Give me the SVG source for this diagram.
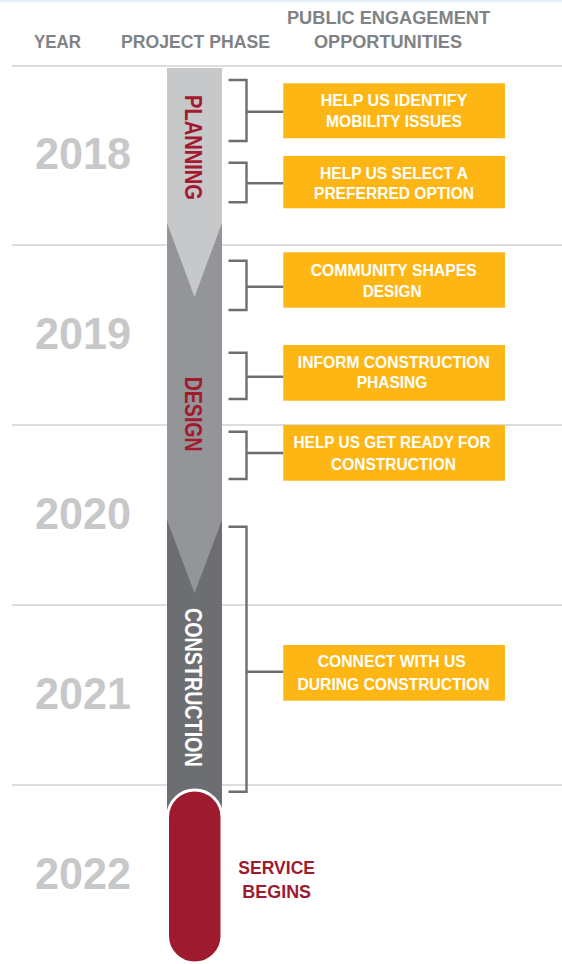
<svg xmlns="http://www.w3.org/2000/svg" width="562" height="964" viewBox="0 0 562 964">
<style>
.hdr{font-family:"Liberation Sans",Arial,sans-serif;font-weight:bold;font-size:18px;fill:#808285;text-anchor:middle}
.yr{font-family:"Liberation Sans",Arial,sans-serif;font-weight:bold;font-size:45px;fill:#c7c8ca}
.sep{stroke:#d1d2d4;stroke-width:1.5;fill:none}
.br{stroke:#6d6e71;stroke-width:2.4;fill:none}
.box{fill:#fdb614}
.bt{font-family:"Liberation Sans",Arial,sans-serif;font-weight:bold;font-size:16px;fill:#ffffff;text-anchor:middle}
.ph{font-family:"Liberation Sans",Arial,sans-serif;font-weight:bold;font-size:24px;text-anchor:middle}
.svc{font-family:"Liberation Sans",Arial,sans-serif;font-weight:bold;font-size:19px;fill:#9e1a2f;text-anchor:middle}
</style>
<rect x="0" y="0" width="562" height="964" fill="#ffffff"/>
<line x1="0" y1="1" x2="562" y2="1" stroke="#e6f0f8" stroke-width="2"/>
<g id="header">
<text class="hdr" x="57.5" y="48" textLength="47" lengthAdjust="spacingAndGlyphs">YEAR</text>
<text class="hdr" x="195.5" y="48" textLength="149" lengthAdjust="spacingAndGlyphs">PROJECT PHASE</text>
<text class="hdr" x="388.5" y="24" textLength="203" lengthAdjust="spacingAndGlyphs">PUBLIC ENGAGEMENT</text>
<text class="hdr" x="388" y="48" textLength="148" lengthAdjust="spacingAndGlyphs">OPPORTUNITIES</text>
</g>
<g id="separators">
<line class="sep" x1="12" y1="66" x2="562" y2="66"/>
<line class="sep" x1="12" y1="245" x2="562" y2="245"/>
<line class="sep" x1="12" y1="425" x2="562" y2="425"/>
<line class="sep" x1="12" y1="605" x2="562" y2="605"/>
<line class="sep" x1="12" y1="785" x2="562" y2="785"/>
</g>
<g id="years">
<text class="yr" x="35" y="169" textLength="96" lengthAdjust="spacingAndGlyphs">2018</text>
<text class="yr" x="35" y="349" textLength="96" lengthAdjust="spacingAndGlyphs">2019</text>
<text class="yr" x="35" y="529" textLength="96" lengthAdjust="spacingAndGlyphs">2020</text>
<text class="yr" x="35" y="709" textLength="96" lengthAdjust="spacingAndGlyphs">2021</text>
<text class="yr" x="35" y="889" textLength="96" lengthAdjust="spacingAndGlyphs">2022</text>
</g>
<g id="phase-construction">
<rect x="167" y="515" width="55" height="295" fill="#6d6e71"/>
<text class="ph" fill="#ffffff" transform="translate(185,687.3) rotate(90)" textLength="158.7" lengthAdjust="spacingAndGlyphs">CONSTRUCTION</text>
</g>
<g id="phase-design">
<polygon points="167,220 222,220 222,520 194.5,593 167,520" fill="#939598"/>
<text class="ph" fill="#a3192f" transform="translate(185,414.2) rotate(90)" textLength="75" lengthAdjust="spacingAndGlyphs">DESIGN</text>
</g>
<g id="phase-planning">
<polygon points="167,68 222,68 222,223 194.5,297 167,223" fill="#c7c8ca"/>
<text class="ph" fill="#a3192f" transform="translate(185,147.5) rotate(90)" textLength="105" lengthAdjust="spacingAndGlyphs">PLANNING</text>
</g>
<g id="service">
<rect x="167.5" y="790" width="54.5" height="173" rx="27.25" fill="#9e1a2f" stroke="#ffffff" stroke-width="3"/>
<text class="svc" x="276.7" y="874.3" textLength="76.7" lengthAdjust="spacingAndGlyphs">SERVICE</text>
<text class="svc" x="276.7" y="897.7" textLength="68.7" lengthAdjust="spacingAndGlyphs">BEGINS</text>
</g>
<g id="connectors">
<path class="br" d="M228.5,80 H246.5 V141 H228.5 M246.5,111.7 H283.5"/>
<path class="br" d="M228.5,162.7 H246.5 V202.3 H228.5 M246.5,183.3 H283.5"/>
<path class="br" d="M228.5,260.7 H246.5 V310 H228.5 M246.5,286.7 H283.5"/>
<path class="br" d="M228.5,352.7 H246.5 V399 H228.5 M246.5,376.7 H283.5"/>
<path class="br" d="M228.5,431.7 H246.5 V479 H228.5 M246.5,453 H283.5"/>
<path class="br" d="M228.5,526.7 H246.5 V791.7 H228.5 M246.5,671.7 H283.5"/>
</g>
<g id="opp1">
<rect class="box" x="283.3" y="83.3" width="221.7" height="55"/>
<text class="bt" x="394" y="106" textLength="146.7" lengthAdjust="spacingAndGlyphs">HELP US IDENTIFY</text>
<text class="bt" x="394" y="127.3" textLength="136" lengthAdjust="spacingAndGlyphs">MOBILITY ISSUES</text>
</g>
<g id="opp2">
<rect class="box" x="283.3" y="156" width="221.7" height="52.3"/>
<text class="bt" x="394" y="179" textLength="148" lengthAdjust="spacingAndGlyphs">HELP US SELECT A</text>
<text class="bt" x="394" y="199.3" textLength="160" lengthAdjust="spacingAndGlyphs">PREFERRED OPTION</text>
</g>
<g id="opp3">
<rect class="box" x="283.3" y="252.3" width="221.7" height="55.4"/>
<text class="bt" x="393.7" y="276" textLength="166" lengthAdjust="spacingAndGlyphs">COMMUNITY SHAPES</text>
<text class="bt" x="392.2" y="297.3" textLength="59" lengthAdjust="spacingAndGlyphs">DESIGN</text>
</g>
<g id="opp4">
<rect class="box" x="283.3" y="345" width="221.7" height="55.7"/>
<text class="bt" x="393.8" y="367.7" textLength="192" lengthAdjust="spacingAndGlyphs">INFORM CONSTRUCTION</text>
<text class="bt" x="392" y="388.3" textLength="70.7" lengthAdjust="spacingAndGlyphs">PHASING</text>
</g>
<g id="opp5">
<rect class="box" x="283.3" y="425" width="221.7" height="55.7"/>
<text class="bt" x="392" y="448.3" textLength="197" lengthAdjust="spacingAndGlyphs">HELP US GET READY FOR</text>
<text class="bt" x="393.5" y="470" textLength="125" lengthAdjust="spacingAndGlyphs">CONSTRUCTION</text>
</g>
<g id="opp6">
<rect class="box" x="283.3" y="645" width="221.7" height="55.7"/>
<text class="bt" x="391.8" y="667.3" textLength="148" lengthAdjust="spacingAndGlyphs">CONNECT WITH US</text>
<text class="bt" x="393.5" y="690" textLength="192" lengthAdjust="spacingAndGlyphs">DURING CONSTRUCTION</text>
</g>
</svg>
